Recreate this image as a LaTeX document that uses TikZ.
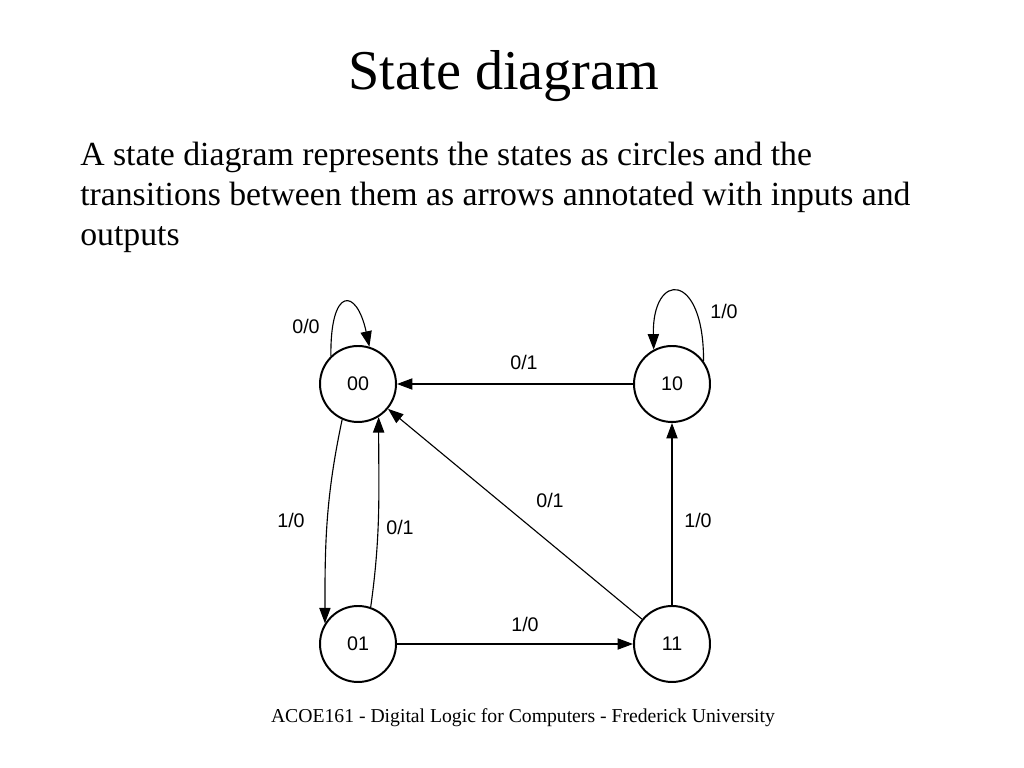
\documentclass[tikz,border=0pt]{standalone}
\usepackage{fontspec}
\setmainfont{Liberation Serif}
\newfontfamily\diagfont{Liberation Sans}
\usetikzlibrary{arrows.meta}
\tikzset{
  state/.style={draw,circle,line width=1.4pt,minimum size=1.9cm,inner sep=0pt,font=\diagfont\fontsize{14}{16}\selectfont},
  trans/.style={line width=0.8pt,-{Triangle[length=11pt,width=8pt]}},
  io/.style={font=\diagfont\fontsize{14}{16}\selectfont}
}
\begin{document}
\begin{tikzpicture}
	\useasboundingbox (0,0) rectangle (25.6,19.2);
	% heading and text
	\node[anchor=base,font=\fontsize{40}{48}\selectfont] (title) at (12.6,16.95) {State diagram};
	\node[anchor=base west,align=left,inner sep=0pt,font=\fontsize{24}{28.45}\selectfont] (intro) at (2.0,13.05)
		{A state diagram represents the states as circles and the\\transitions between them as arrows annotated with inputs and\\outputs};
	\node[anchor=base,font=\fontsize{14}{16}\selectfont] (footer) at (13.075,1.125) {ACOE161 - Digital Logic for Computers - Frederick University};
	% states
	\node[state] (s00) at (8.95,9.6) {00};
	\node[state] (s10) at (16.8,9.6) {10};
	\node[state] (s01) at (8.95,3.1) {01};
	\node[state] (s11) at (16.8,3.1) {11};
	% transitions
	\draw[trans] (s00.134) .. controls (8.25,12.03) and (8.91,12.03) .. (s00.73);
	\draw[trans] (s10.36) .. controls (17.6,12.43) and (16.3,12.43) .. (s10.118);
	\draw[trans] (s10) -- (s00);
	\draw[trans] (s11) -- (s00);
	\draw[trans] (s11) -- (s10);
	\draw[trans] (s01) -- (s11);
	\draw[trans] (s00.246) to[out=258,in=90] (s01.148);
	\draw[trans] (s01.71) to[out=82,in=-90] (s00.302);
	% inputs/outputs
	\node[io] (l0000) at (7.65,11.05) {0/0};
	\node[io] (l1010) at (18.1,11.425) {1/0};
	\node[io] (l1000) at (13.1,10.15) {0/1};
	\node[io] (l1100) at (13.75,6.7) {0/1};
	\node[io] (l1110) at (17.45,6.2) {1/0};
	\node[io] (l0001) at (7.275,6.2) {1/0};
	\node[io] (l0100) at (10.0,6.025) {0/1};
	\node[io] (l0111) at (13.125,3.6) {1/0};
\end{tikzpicture}
\end{document}
